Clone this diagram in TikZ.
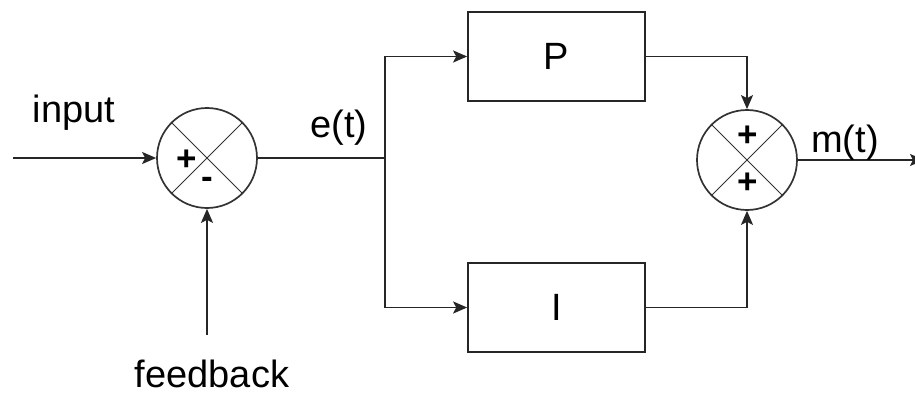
\documentclass[tikz,border=0pt]{standalone}
\usepackage{fontspec}
\setmainfont{Liberation Sans}
\usetikzlibrary{arrows.meta,positioning}
\begin{document}
\begin{tikzpicture}[x=1pt,y=-1pt,
  wire/.style={line width=1.7pt,draw=black!85},
  arr/.style={wire,-{Stealth[length=14pt,width=12pt,inset=3pt]}},
  sumnode/.style={circle,draw=black!80,line width=1.7pt,minimum size=100pt,inner sep=0pt},
  blk/.style={rectangle,draw=black!85,line width=1.7pt,minimum width=177pt,minimum height=89pt,inner sep=0pt,font=\fontsize{38}{45}\selectfont},
  lbl/.style={anchor=base,inner sep=0pt,font=\fontsize{38}{45}\selectfont},
  sgn/.style={inner sep=0pt,font=\fontsize{35}{40}\selectfont\bfseries},
  cross/.style={line width=1pt,draw=black!80}]
\useasboundingbox (0,0) rectangle (915,401);

% summing junctions
\node[sumnode] (sumA) at (207,158) {};
\node[sumnode] (sumB) at (747,160) {};
\draw[cross] (sumA.north west) -- (sumA.south east);
\draw[cross] (sumA.north east) -- (sumA.south west);
\draw[cross] (sumB.north west) -- (sumB.south east);
\draw[cross] (sumB.north east) -- (sumB.south west);
\node[sgn] (sA1) at (187,160) {+};
\node[sgn] (sA2) at (207,183) {-};
\node[sgn] (sB1) at (748,136) {+};
\node[sgn] (sB2) at (748,183) {+};

% controller blocks
\node[blk] (P) at (556.5,56.5) {P};
\node[blk] (I) at (556.5,307.5) {I};

% free ends and branch point
\coordinate (in) at (13,158);
\coordinate (fb) at (207,335);
\coordinate (split) at (385,158);
\coordinate (out) at (924,160);

% connections
\draw[arr] (in) -- (sumA.west);
\draw[arr] (fb) -- (sumA.south);
\draw[wire] (sumA.east) -- (split);
\draw[arr] (split) |- (P.west);
\draw[arr] (split) |- (I.west);
\draw[arr] (P.east) -| (sumB.north);
\draw[arr] (I.east) -| (sumB.south);
\draw[arr] (sumB.east) -- (out);

% signal labels
\node[lbl] (tin) at (74,123) {input};
\node[lbl] (tfb) at (212,387) {feedback};
\node[lbl] (te) at (339,137) {e(t)};
\node[lbl] (tm) at (845,152) {m(t)};
\end{tikzpicture}
\end{document}
